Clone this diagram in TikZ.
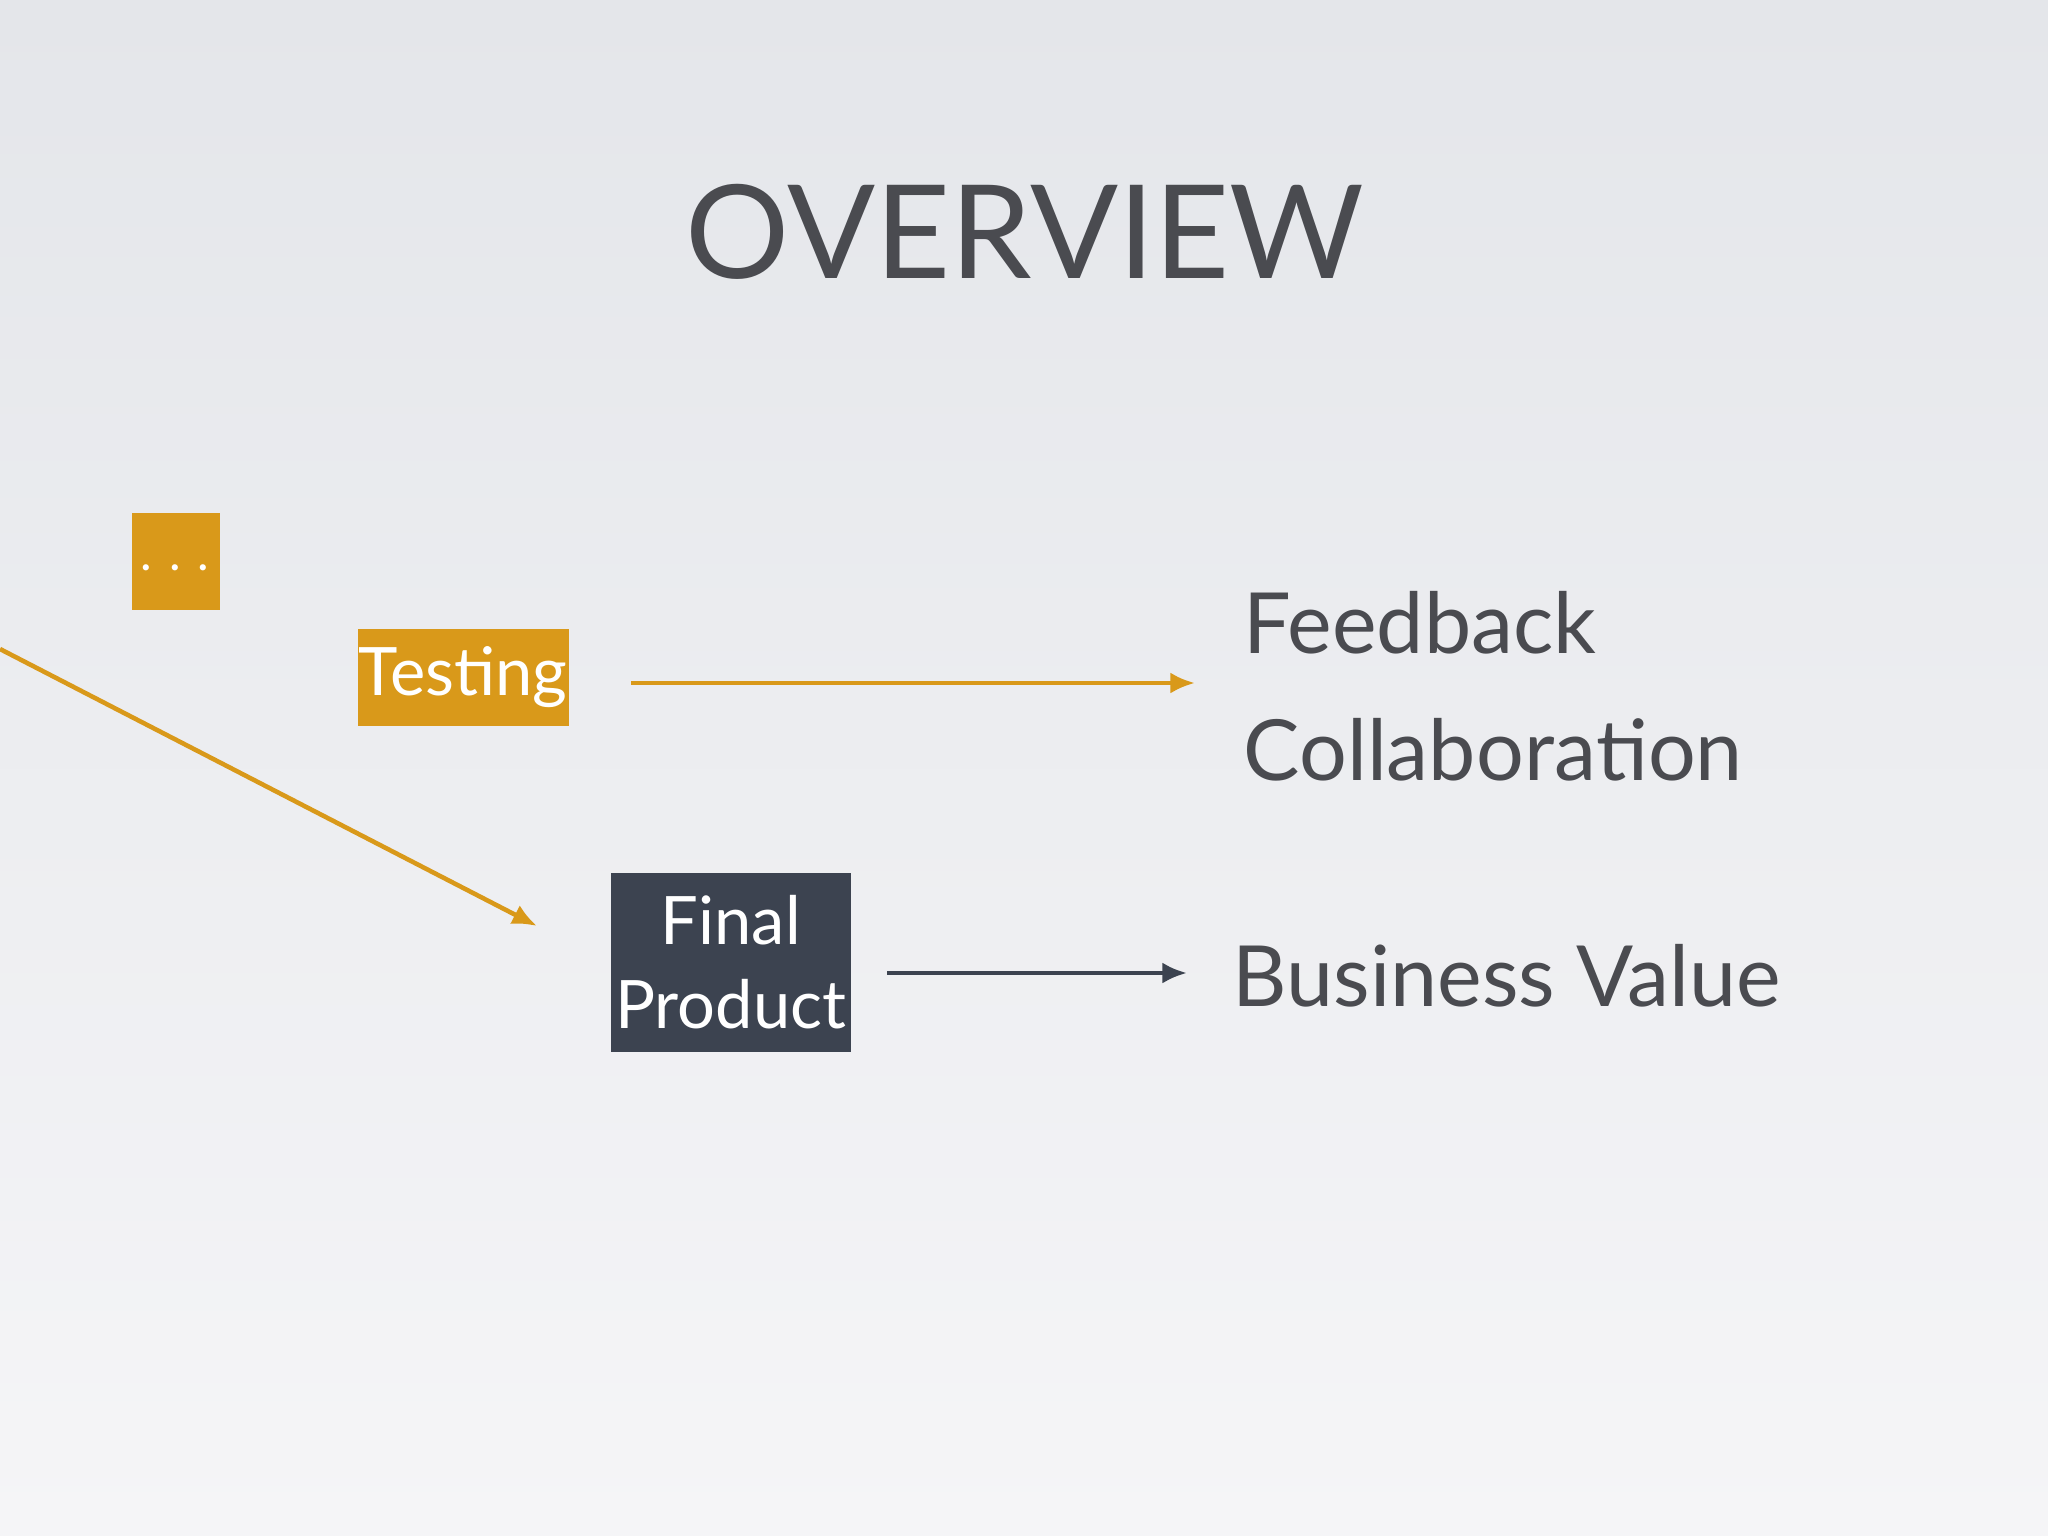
\documentclass[tikz,border=0pt]{standalone}
\usepackage{fontspec}
\setmainfont{Lato}
\usetikzlibrary{arrows.meta}
\definecolor{org}{HTML}{D9991A}
\definecolor{dk}{HTML}{3C4350}
\definecolor{tx}{HTML}{4A4B50}
\begin{document}
\begin{tikzpicture}[x=0.01cm,y=-0.01cm,
  obox/.style={fill=org,text=white,inner sep=0pt,anchor=north west},
  big/.style={text=tx,anchor=base west,inner sep=0pt,font=\fontsize{24}{30}\selectfont},
  oarr/.style={draw=org,line width=1.3pt,-{Latex[length=7pt,width=6pt]}},
  darr/.style={draw=dk,line width=1.3pt,-{Latex[length=7pt,width=6pt]}}]
\shade[top color={rgb,255:red,228;green,230;blue,234},bottom color={rgb,255:red,245;green,245;blue,247}] (0,0) rectangle (2048,1536);
\useasboundingbox (0,0) rectangle (2048,1536);
\node[text=tx,font=\fontsize{37}{42}\selectfont] (title) at (1025,232) {OVERVIEW};
\node[obox,minimum width=0.88cm,minimum height=0.97cm] (dots) at (131,512) {};
\node[text=white,font=\fontsize{14}{18}\selectfont] (dt) at (175,568) {. . .};
\node[obox,minimum width=2.11cm,minimum height=0.97cm,font=\fontsize{19}{24}\selectfont] (test) at (357,628) {Tes\kern0pt ting};
\node[obox,fill=dk,minimum width=2.40cm,minimum height=1.79cm,align=center,font=\fontsize{19}{24}\selectfont] (fp) at (610,872) {Final\\Product};
\node[big] (fb) at (1243,653) {Feedback};
\node[big] (col) at (1243,780) {Collabora\kern0pt tion};
\node[big] (bv) at (1232,1006) {Business Value};
\coordinate (a1) at (631,683);
\coordinate (a2) at (1195,683);
\coordinate (d1) at (0,649);
\coordinate (d2) at (537,926);
\coordinate (b1) at (887,973);
\coordinate (b2) at (1187,973);
\draw[oarr] (a1) -- (a2);
\draw[oarr] (d1) -- (d2);
\draw[darr] (b1) -- (b2);
\end{tikzpicture}
\end{document}
